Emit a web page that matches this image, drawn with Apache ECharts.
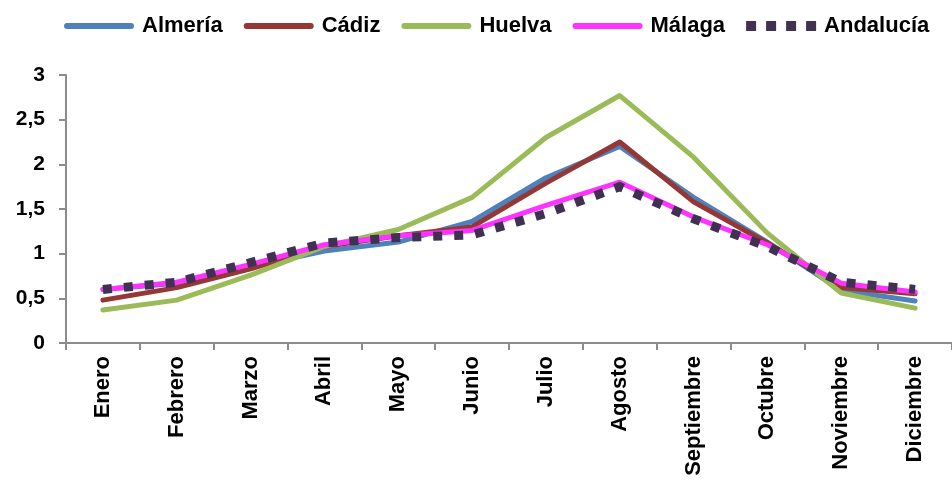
<!DOCTYPE html>
<html>
<head>
<meta charset="utf-8">
<script src="https://cdn.jsdelivr.net/npm/echarts@6/dist/echarts.min.js"></script>
<style>
  html, body { margin: 0; padding: 0; background: #fff; }
  #chart { width: 952px; height: 486px; }
</style>
</head>
<body>
<div id="chart"></div>
<script>
/* ── datos ── */
const meses = ['Enero', 'Febrero', 'Marzo', 'Abril', 'Mayo', 'Junio', 'Julio', 'Agosto', 'Septiembre', 'Octubre', 'Noviembre', 'Diciembre'];
const almeria   = [0.60, 0.67, 0.85, 1.03, 1.13, 1.36, 1.85, 2.20, 1.63, 1.13, 0.59, 0.47];
const cadiz     = [0.48, 0.62, 0.83, 1.08, 1.20, 1.30, 1.79, 2.25, 1.58, 1.12, 0.62, 0.55];
const huelva    = [0.37, 0.48, 0.76, 1.08, 1.27, 1.63, 2.30, 2.77, 2.08, 1.23, 0.56, 0.39];
const malaga    = [0.60, 0.68, 0.88, 1.10, 1.20, 1.26, 1.54, 1.80, 1.41, 1.10, 0.67, 0.57];
const andalucia = [0.60, 0.68, 0.90, 1.12, 1.18, 1.21, 1.45, 1.75, 1.39, 1.08, 0.68, 0.60];
const yTicks = [0, 0.5, 1, 1.5, 2, 2.5, 3];

const FONT = '"Liberation Sans", Arial, sans-serif';
const AXIS_GRAY = '#8c8c8c';

// iconos de la leyenda (caja 70x10): línea gruesa redondeada y cuadrados
const ICON_LINEA = 'path://M0,0h0.05v0.05h-0.05z M3,2h64a3,3 0 0 1 0,6h-64a3,3 0 0 1 0,-6z M69.95,9.95h0.05v0.05h-0.05z';
const ICON_PUNTOS = 'path://M0,0h10v10h-10z M20,0h10v10h-10z M40,0h10v10h-10z M60,0h10v10h-10z';

const chart = echarts.init(document.getElementById('chart'));

function serie(name, data, color, extra) {
  return Object.assign({
    name, type: 'line', data,
    symbol: 'none', smooth: false,
    lineStyle: { color, width: 5, cap: 'round', join: 'round' },
    itemStyle: { color },
  }, extra || {});
}

chart.setOption({
  animation: false,
  legend: {
    left: 59, top: 10,
    itemWidth: 70, itemHeight: 10, itemGap: 21,
    textStyle: { fontFamily: FONT, fontWeight: 'bold', fontSize: 22, color: '#000', padding: [0, 0, 0, 3] },
    data: [
      { name: 'Almería', icon: ICON_LINEA },
      { name: 'Cádiz', icon: ICON_LINEA },
      { name: 'Huelva', icon: ICON_LINEA },
      { name: 'Málaga', icon: ICON_LINEA },
      { name: 'Andalucía', icon: ICON_PUNTOS },
    ],
  },
  grid: { left: 66, top: 75, bottom: 143, right: -8, containLabel: false },
  xAxis: {
    type: 'category', data: meses, boundaryGap: true,
    axisLine: { lineStyle: { color: AXIS_GRAY, width: 2 } },
    axisTick: { show: true, length: 7, lineStyle: { color: AXIS_GRAY, width: 2 } },
    axisLabel: { rotate: 90, margin: 13, interval: 0, fontFamily: FONT, fontWeight: 'bold', fontSize: 22, color: '#000' },
    splitLine: { show: false },
  },
  yAxis: {
    type: 'value', min: yTicks[0], max: yTicks[yTicks.length - 1], interval: 0.5,
    axisLine: { show: true, lineStyle: { color: AXIS_GRAY, width: 2 } },
    axisTick: { show: true, length: 7, lineStyle: { color: AXIS_GRAY, width: 2 } },
    axisLabel: {
      margin: 21, fontFamily: FONT, fontWeight: 'bold', fontSize: 21, color: '#000',
      formatter: v => String(v).replace('.', ','),
    },
    splitLine: { show: false },
  },
  series: [
    serie('Almería', almeria, '#4F81BD'),
    serie('Cádiz', cadiz, '#953735'),
    serie('Huelva', huelva, '#9BBB59'),
    serie('Málaga', malaga, '#FF33FF'),
    serie('Andalucía', andalucia, '#403152', {
      lineStyle: { color: '#403152', width: 9, type: [9, 12], cap: 'butt', join: 'miter' },
    }),
  ],
});
</script>
</body>
</html>
